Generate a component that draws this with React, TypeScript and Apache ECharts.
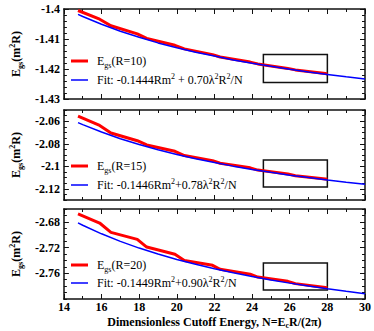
import React, { useEffect, useRef } from 'react';
import * as echarts from 'echarts';

// ---- data ----
const fitN = [14.75, 15, 16, 17, 18, 19, 20, 21, 22, 23, 24, 25, 26, 27, 28, 29, 30];
const fitR10 = [-1.4018, -1.4025, -1.4051, -1.4074, -1.4094, -1.4113, -1.4129, -1.4144, -1.4157, -1.4170, -1.4181, -1.4191, -1.4201, -1.4210, -1.4218, -1.4226, -1.4233];
const fitR15 = [-2.0612, -2.0630, -2.0696, -2.0755, -2.0807, -2.0853, -2.0895, -2.0933, -2.0967, -2.0999, -2.1028, -2.1054, -2.1079, -2.1101, -2.1122, -2.1142, -2.1160];
const fitR20 = [-2.6817, -2.6853, -2.6986, -2.7104, -2.7208, -2.7301, -2.7385, -2.7461, -2.7530, -2.7593, -2.7651, -2.7704, -2.7753, -2.7799, -2.7841, -2.7880, -2.7917];

const dataN = [14.75, 15.9, 16.5, 17.9, 18.4, 19.9, 20.4, 21.9, 22.3, 23.9, 24.3, 25.9, 26.3, 27.9, 28];
const egsR10 = [-1.4005, -1.4034, -1.4056, -1.4083, -1.4098, -1.4121, -1.4133, -1.4152, -1.4160, -1.4177, -1.4183, -1.4198, -1.4203, -1.4215, -1.4217];
const egsR15 = [-2.0554, -2.0637, -2.0704, -2.0773, -2.0811, -2.0867, -2.0905, -2.0950, -2.0973, -2.1014, -2.1034, -2.1068, -2.1084, -2.1113, -2.1116];
const egsR20 = [-2.6677, -2.6818, -2.6963, -2.7073, -2.7192, -2.7304, -2.7400, -2.7476, -2.7537, -2.7614, -2.7659, -2.7725, -2.7761, -2.7821, -2.7829];

const xMin = 14;
const xMax = 30;
const xMajorTicks = [14, 16, 18, 20, 22, 24, 26, 28, 30];
const xMinorTicks = [15, 17, 19, 21, 23, 25, 27, 29];

const yRange10 = [-1.43, -1.4];
const yRange15 = [-2.13, -2.05];
const yRange20 = [-2.8, -2.66];
const yLabels10 = [-1.43, -1.42, -1.41, -1.4];
const yLabels15 = [-2.12, -2.1, -2.08, -2.06];
const yLabels20 = [-2.76, -2.72, -2.68];
const yMinorStep = [0.002, 0.005, 0.01];

const boxX = [24.6, 28];
const boxY10 = [-1.4152, -1.4245];
const boxY15 = [-2.0944, -2.1184];
const boxY20 = [-2.744, -2.786];

const radii = ['10', '15', '20'];
const fitLabels = [
  'Fit: -0.1444Rm{sup|2} + 0.70λ{sup|2}R{sup|2}/N',
  'Fit: -0.1446Rm{sup|2}+0.78λ{sup|2}R{sup|2}/N',
  'Fit: -0.1449Rm{sup|2}+0.90λ{sup|2}R{sup|2}/N',
];

// ---- layout ----
const SERIF = 'Liberation Serif';
const GRID_LEFT = 57;
const GRID_W = 308;
const GRID_H = 90;
const gridTops = [9, 110, 209];
const legendRedY = [61, 166, 265];
const legendBlueY = [80, 185, 283];

function tickList(min: number, max: number, step: number) {
  const out: number[] = [];
  const n = Math.round((max - min) / step);
  for (let k = 0; k <= n; k++) out.push(+(min + k * step).toFixed(5));
  return out;
}

const richNormal = {
  sub: { fontSize: 8, fontFamily: SERIF, lineHeight: 8, verticalAlign: 'bottom', color: '#000' },
  sup: { fontSize: 8, fontFamily: SERIF, lineHeight: 8, verticalAlign: 'top', color: '#000' },
};
const richBold = {
  b: { fontSize: 12, fontFamily: SERIF, fontWeight: 'bold', lineHeight: 16, color: '#000' },
  bs: { fontSize: 8, fontFamily: SERIF, fontWeight: 'bold', lineHeight: 8, verticalAlign: 'bottom', color: '#000' },
  bp: { fontSize: 8, fontFamily: SERIF, fontWeight: 'bold', lineHeight: 8, verticalAlign: 'top', color: '#000' },
};

export default function App() {
  const ref = useRef<HTMLDivElement>(null);

  useEffect(() => {
    if (!ref.current) return;
    const chart = echarts.init(ref.current, undefined, { renderer: 'svg' });

    const ranges = [yRange10, yRange15, yRange20];
    const labels = [yLabels10, yLabels15, yLabels20];
    const fits = [fitR10, fitR15, fitR20];
    const egs = [egsR10, egsR15, egsR20];
    const boxesY = [boxY10, boxY15, boxY20];

    const grids: any[] = [];
    const xAxes: any[] = [];
    const yAxes: any[] = [];
    const series: any[] = [];
    const graphics: any[] = [];

    const frameLine = { show: true, onZero: false, lineStyle: { color: '#111', width: 1.5 } };

    for (let i = 0; i < 3; i++) {
      grids.push({ left: GRID_LEFT, top: gridTops[i], width: GRID_W, height: GRID_H, containLabel: false });
      const isLast = i === 2;
      const [ymin, ymax] = ranges[i];
      const minorY = tickList(ymin, ymax, yMinorStep[i]).filter(
        (v) => !labels[i].some((l) => Math.abs(l - v) < 1e-6)
      );

      // x axes: bottom major, bottom minor, top major, top minor
      const xBase = { type: 'value', gridIndex: i, min: xMin, max: xMax, splitLine: { show: false } };
      xAxes.push({
        ...xBase,
        position: 'bottom',
        axisLine: frameLine,
        axisTick: { show: true, inside: true, length: 5, customValues: xMajorTicks, lineStyle: { color: '#111', width: 1 } },
        axisLabel: isLast
          ? { show: true, customValues: xMajorTicks, margin: 2, fontFamily: SERIF, fontWeight: 'bold', fontSize: 12, color: '#000' }
          : { show: false },
        name: isLast ? 'Dimensionless Cutoff Energy, N=E{bs|c}R/(2π)' : '',
        nameLocation: 'middle',
        nameGap: 11,
        nameTextStyle: { fontFamily: SERIF, fontWeight: 'bold', fontSize: 12, color: '#000', lineHeight: 16, rich: richBold },
      });
      xAxes.push({
        ...xBase,
        position: 'bottom',
        axisLine: { show: false },
        axisTick: { show: true, inside: true, length: 3, customValues: xMinorTicks, lineStyle: { color: '#111', width: 1 } },
        axisLabel: { show: false },
      });
      xAxes.push({
        ...xBase,
        position: 'top',
        axisLine: frameLine,
        axisTick: { show: true, inside: true, length: 5, customValues: xMajorTicks, lineStyle: { color: '#111', width: 1 } },
        axisLabel: { show: false },
      });
      xAxes.push({
        ...xBase,
        position: 'top',
        axisLine: { show: false },
        axisTick: { show: true, inside: true, length: 3, customValues: xMinorTicks, lineStyle: { color: '#111', width: 1 } },
        axisLabel: { show: false },
      });

      // y axes: left major, left minor, right major, right minor
      const yBase = { type: 'value', gridIndex: i, min: ymin, max: ymax, splitLine: { show: false } };
      yAxes.push({
        ...yBase,
        position: 'left',
        axisLine: frameLine,
        axisTick: { show: true, inside: true, length: 5, customValues: labels[i], lineStyle: { color: '#111', width: 1 } },
        axisLabel: { show: true, customValues: labels[i], margin: 4, fontFamily: SERIF, fontWeight: 'bold', fontSize: 12, color: '#000' },
        name: '{b|E}{bs|gs}{b|(m}{bp|2}{b|R)}',
        nameLocation: 'middle',
        nameRotate: 90,
        nameGap: 36,
        nameTextStyle: { rich: richBold, lineHeight: 16 },
      });
      yAxes.push({
        ...yBase,
        position: 'left',
        axisLine: { show: false },
        axisTick: { show: true, inside: true, length: 3, customValues: minorY, lineStyle: { color: '#111', width: 1 } },
        axisLabel: { show: false },
      });
      yAxes.push({
        ...yBase,
        position: 'right',
        axisLine: frameLine,
        axisTick: { show: true, inside: true, length: 5, customValues: labels[i], lineStyle: { color: '#111', width: 1 } },
        axisLabel: { show: false },
      });
      yAxes.push({
        ...yBase,
        position: 'right',
        axisLine: { show: false },
        axisTick: { show: true, inside: true, length: 3, customValues: minorY, lineStyle: { color: '#111', width: 1 } },
        axisLabel: { show: false },
      });

      const [by0, by1] = boxesY[i];
      series.push({
        type: 'line',
        xAxisIndex: i * 4,
        yAxisIndex: i * 4,
        data: dataN.map((n, k) => [n, egs[i][k]]),
        showSymbol: false,
        symbol: 'none',
        lineStyle: { color: '#ff0000', width: 3 },
        z: 3,
        markArea: {
          silent: true,
          itemStyle: { color: 'rgba(0,0,0,0)', borderColor: '#111', borderWidth: 1.5 },
          data: [[{ coord: [boxX[0], by0] }, { coord: [boxX[1], by1] }]],
        },
      });
      series.push({
        type: 'line',
        xAxisIndex: i * 4,
        yAxisIndex: i * 4,
        data: fitN.map((n, k) => [n, fits[i][k]]),
        showSymbol: false,
        symbol: 'none',
        lineStyle: { color: '#0000ff', width: 1.5 },
        z: 4,
      });

      // legend
      graphics.push({
        type: 'line',
        shape: { x1: 71, y1: legendRedY[i], x2: 88, y2: legendRedY[i] },
        style: { stroke: '#ff0000', lineWidth: 3 },
        z: 10,
      });
      graphics.push({
        type: 'text',
        x: 97,
        y: legendRedY[i],
        style: {
          text: 'E{sub|gs}(R=' + radii[i] + ')',
          fontFamily: SERIF,
          fontSize: 12,
          lineHeight: 16,
          fill: '#000',
          verticalAlign: 'middle',
          rich: richNormal,
        },
        z: 10,
      });
      graphics.push({
        type: 'line',
        shape: { x1: 71, y1: legendBlueY[i], x2: 88, y2: legendBlueY[i] },
        style: { stroke: '#0000ff', lineWidth: 1.5 },
        z: 10,
      });
      graphics.push({
        type: 'text',
        x: 97,
        y: legendBlueY[i],
        style: {
          text: fitLabels[i],
          fontFamily: SERIF,
          fontSize: 12,
          lineHeight: 16,
          fill: '#000',
          verticalAlign: 'middle',
          rich: richNormal,
        },
        z: 10,
      });
    }

    chart.setOption({
      animation: false,
      backgroundColor: '#fff',
      grid: grids,
      xAxis: xAxes,
      yAxis: yAxes,
      series,
      graphic: graphics,
    });

    return () => chart.dispose();
  }, []);

  return (
    <div
      ref={ref}
      style={{ position: 'absolute', left: 0, top: 0, width: 374, height: 331 }}
    />
  );
}
